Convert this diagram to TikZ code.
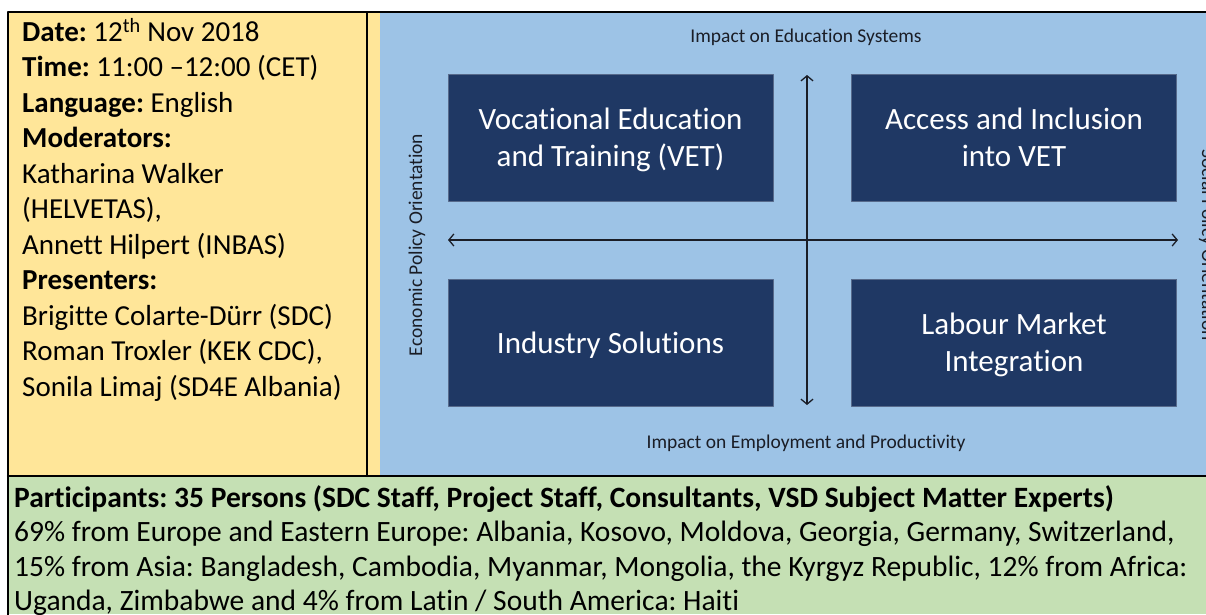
\documentclass[tikz,border=0pt]{standalone}
\usepackage{fontspec}
\setmainfont{Carlito}[Ligatures=NoCommon]
\frenchspacing
\usetikzlibrary{arrows.meta}

\definecolor{cellyellow}{HTML}{FFE699}
\definecolor{cellgreen}{HTML}{C5E0B4}
\definecolor{panelblue}{HTML}{9DC3E6}
\definecolor{boxnavy}{HTML}{1F3864}
\definecolor{axisink}{HTML}{1A1D26}

\begin{document}
\begin{tikzpicture}[x=1pt,y=-1pt,line cap=round,line join=round,
  quad/.style={fill=boxnavy,draw=boxnavy!75!white,line width=0.8pt,text=white,minimum width=325pt,minimum height=127pt,align=center,inner sep=0pt,text depth=0pt,font=\fontsize{31}{37}\selectfont},
  axislabel/.style={text=axisink,inner sep=0pt,font=\fontsize{19.5}{23}\selectfont},
  axis/.style={draw=axisink,line width=1.3pt,{Straight Barb[length=5pt,width=12pt]}-{Straight Barb[length=5pt,width=12pt]}},
  info/.style={anchor=north west,align=left,inner sep=0pt,font=\fontsize{29}{35.5}\selectfont}]
\useasboundingbox (0,0) rectangle (1206,614);
\fill[cellyellow] (8,12) rectangle (1206,476);
\fill[cellgreen] (8,476) rectangle (1206,614);
\draw[line width=2.5pt] (8,12) rectangle (1212,630);
\draw[line width=2.5pt] (8,476) -- (1212,476);
\draw[line width=2pt] (367,12) -- (367,476);
\begin{scope}
\clip (380,13) rectangle (1206,475);
\fill[panelblue] (380,13) rectangle (1206,475);
\node[quad] (vet) at (610.5,137.5) {Vocational Education\\and Training (VET)};
\node[quad] (access) at (1014,137.5) {Access and Inclusion\\into VET};
\node[quad] (industry) at (610.5,342.5) {Industry Solutions};
\node[quad] (labour) at (1014,342.5) {Labour Market\\Integration};
\coordinate (up) at (807,75);
\coordinate (down) at (807,405);
\coordinate (west) at (448,240);
\coordinate (east) at (1178,240);
\draw[axis] (down) -- (up);
\draw[axis] (west) -- (east);
\node[axislabel,anchor=base] (edu) at (806,42) {Impact on Education Systems};
\node[axislabel,anchor=base] (empl) at (806,448) {Impact on Employment and Productivity};
\node[axislabel,anchor=base,rotate=90] (econ) at (422,245) {Economic Policy Orientation};
\node[axislabel,anchor=base,rotate=-90] (social) at (1202,245) {Social Policy Orientation};
\end{scope}
\node[info] (details) at (22,18) {\textbf{Date:} 12\textsuperscript{th} Nov 2018\\
\textbf{Time:} 11:00 –12:00 (CET)\\
\textbf{Language:} English\\
\textbf{Moderators:}\\
Katharina Walker\\
(HELVETAS),\\
Annett Hilpert (INBAS)\\
\textbf{Presenters:}\\
Brigitte Colarte-Dürr (SDC)\\
Roman Troxler (KEK CDC),\\
Sonila Limaj (SD4E Albania)};
\node[info,font=\fontsize{29.5}{34.5}\selectfont] (participants) at (14,485) {\textbf{Participants: 35 Persons (SDC Staff, Project Staff, Consultants, VSD Subject Matter Experts)}\\
69\% from Europe and Eastern Europe: Albania, Kosovo, Moldova, Georgia, Germany, Switzerland,\\
15\% from Asia: Bangladesh, Cambodia, Myanmar, Mongolia, the Kyrgyz Republic, 12\% from Africa:\\
Uganda, Zimbabwe and 4\% from Latin / South America: Haiti};
\end{tikzpicture}
\end{document}
